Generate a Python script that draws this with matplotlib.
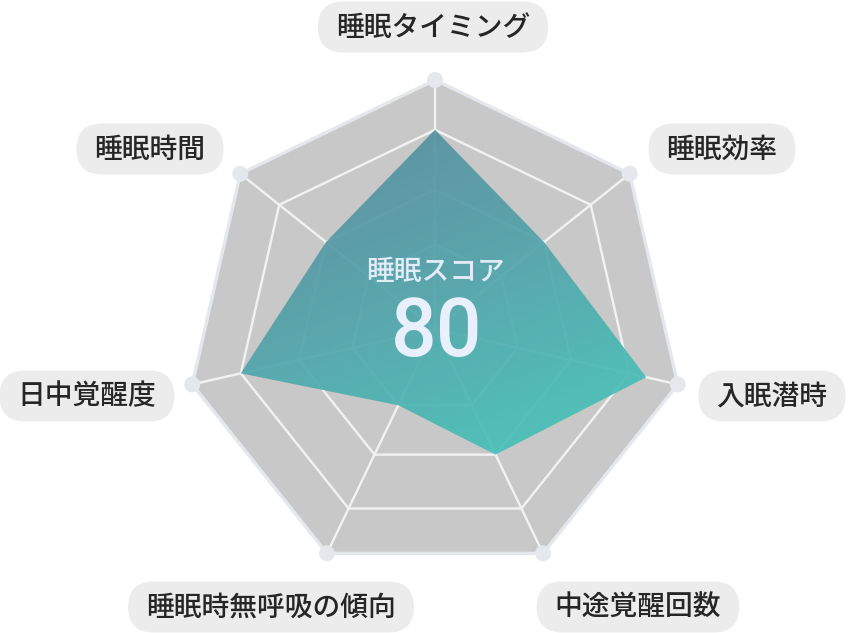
import numpy as np
import matplotlib.pyplot as plt
from matplotlib.patches import Polygon, Circle, FancyBboxPatch
from matplotlib.colors import LinearSegmentedColormap

plt.rcParams['font.family'] = ['Noto Sans CJK JP', 'DejaVu Sans']

# データ
categories = ['睡眠タイミング', '睡眠効率', '入眠潜時', '中途覚醒回数',
              '睡眠時無呼吸の傾向', '日中覚醒度', '睡眠時間']
scores = [80, 56, 87, 56, 34, 80, 56]
ring_levels = [34, 56, 80, 100]
max_score = 100
total_score = 80
center_title = '睡眠スコア'

# レイアウト (ピクセル座標)
W, H = 848, 633
cx, cy, R = 435, 329, 249
label_xy = [(433, 27), (722, 149), (772, 396), (638, 607),
            (271, 607), (87, 396), (150, 149)]

fig = plt.figure(figsize=(W / 100, H / 100), dpi=100)
ax = fig.add_axes([0, 0, 1, 1])
ax.set_xlim(0, W)
ax.set_ylim(H, 0)
ax.axis('off')

n = len(categories)
ang = np.pi / 2 - np.arange(n) * 2 * np.pi / n


def pts(vals):
    r = np.asarray(vals, dtype=float) / max_score * R
    return np.column_stack([cx + r * np.cos(ang), cy - r * np.sin(ang)])


# 背景の七角形
outer = pts([max_score] * n)
ax.add_patch(Polygon(outer, closed=True, fc='#c8c8c8', ec='#e4e7ec', lw=2.4, zorder=1))
for lv in ring_levels[:-1]:
    ax.add_patch(Polygon(pts([lv] * n), closed=True, fill=False,
                         ec='#f2f2f2', lw=1.7, zorder=2))
for x, y in outer:
    ax.plot([cx, x], [cy, y], color='#f2f2f2', lw=1.7, zorder=2)

# スコアの多角形 (グラデーション)
data = pts(scores)
poly = Polygon(data, closed=True, fc='none', ec='none', zorder=3)
ax.add_patch(poly)
gx, gy = np.meshgrid(np.linspace(0, 1, 200), np.linspace(0, 1, 200))
t = np.clip(0.35 * gx + 0.75 * gy, 0, 1)
cmap = LinearSegmentedColormap.from_list('sc', ['#578a9c', '#51a2a9', '#46c2b8'])
x0, x1 = data[:, 0].min(), data[:, 0].max()
y0, y1 = data[:, 1].min(), data[:, 1].max()
im = ax.imshow(t, cmap=cmap, extent=[x0, x1, y1, y0], alpha=0.92,
               zorder=3, aspect='auto', interpolation='bilinear')
im.set_clip_path(poly)
ax.set_xlim(0, W)
ax.set_ylim(H, 0)

# 頂点のドット
for x, y in outer:
    ax.add_patch(Circle((x, y), 8, fc='#e4e7ec', ec='none', zorder=5))

# 中央テキスト
ax.text(436, 271, center_title, fontsize=20, color='#e2ecfa', fontweight='medium',
        ha='center', va='center', zorder=6)
ax.text(437, 334, str(total_score), fontsize=58, color='#e8f0fd',
        family=['Roboto', 'DejaVu Sans'], fontweight='medium',
        ha='center', va='center', zorder=6)

# ラベル
fig.canvas.draw()
renderer = fig.canvas.get_renderer()
inv = ax.transData.inverted()
for name, (lx, ly) in zip(categories, label_xy):
    txt = ax.text(lx, ly, name, fontsize=20, color='#262626', fontweight='medium',
                  ha='center', va='center', zorder=8)
    bb = txt.get_window_extent(renderer)
    (bx0, _), (bx1, _) = inv.transform([[bb.x0, bb.y0], [bb.x1, bb.y1]])
    tw = abs(bx1 - bx0)
    bw, bh = tw + 36, 51
    ax.add_patch(FancyBboxPatch((lx - bw / 2 + bh / 2, ly - 0.005),
                                bw - bh, 0.01,
                                boxstyle=f'round,pad={bh / 2},rounding_size={bh / 2}',
                                fc='#ececec', ec='none', zorder=7))

fig.savefig('out.png', dpi=100)
